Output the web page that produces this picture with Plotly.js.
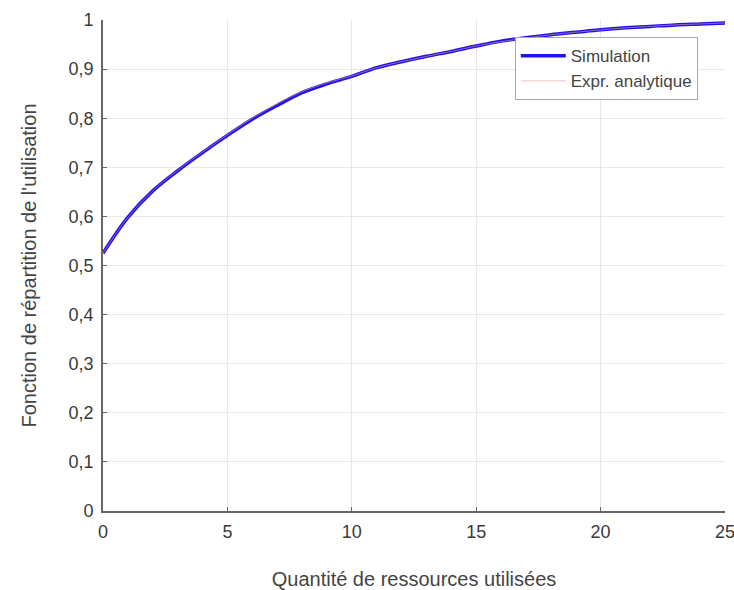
<!DOCTYPE html>
<html>
<head>
<meta charset="utf-8">
<script src="https://cdn.plot.ly/plotly-3.0.1.min.js"></script>
<style>html,body{margin:0;padding:0;background:#fff;}#chart{width:734px;height:590px;}</style>
</head>
<body>
<div id="chart"></div>
<script>
const xValues = [0,1,2,3,4,5,6,7,8,9,10,11,12,13,14,15,16,17,18,19,20,21,22,23,24,25];
const simulation = [0.525,0.598,0.652,0.693,0.730,0.765,0.798,0.826,0.852,0.870,0.885,0.903,0.915,0.926,0.936,0.947,0.957,0.964,0.970,0.975,0.980,0.984,0.987,0.990,0.992,0.994];
const analytique = [0.525,0.598,0.652,0.694,0.731,0.766,0.800,0.829,0.854,0.872,0.886,0.903,0.915,0.926,0.936,0.947,0.956,0.963,0.970,0.975,0.980,0.984,0.987,0.990,0.992,0.994];
const xTicks = [0,5,10,15,20,25];
const yTicks = [0,0.1,0.2,0.3,0.4,0.5,0.6,0.7,0.8,0.9,1];

const traces = [
  {x: xValues, y: analytique, mode: 'lines', name: 'Expr. analytique', showlegend: false, line: {color: 'rgb(240,150,150)', width: 1, shape: 'spline'}},
  {x: xValues, y: simulation, mode: 'lines', name: 'Simulation', line: {color: 'rgb(30,20,235)', width: 3.5, shape: 'spline'}},
  {x: xValues, y: analytique, mode: 'lines', name: 'Expr. analytique', line: {color: 'rgba(240,150,150,0.6)', width: 1, shape: 'spline'}}
];

const fontFam = 'Liberation Sans, Arial, sans-serif';
const axisCommon = {
  showline: true, linecolor: '#666', linewidth: 1.8,
  showgrid: true, gridcolor: '#e8e8e8', gridwidth: 1,
  zeroline: false, ticks: 'inside', ticklen: 4, tickcolor: '#666',
  tickfont: {family: fontFam, size: 18, color: '#3a3a3a'},
  ticklabeloverflow: 'allow', ticklabelstandoff: 4,
  mirror: false
};

const layout = {
  width: 734, height: 590,
  margin: {l: 103, r: 9, t: 20, b: 79},
  paper_bgcolor: '#fff', plot_bgcolor: '#fff',
  separators: ', ',
  showlegend: true,
  legend: {
    x: 0.662, y: 0.965, xanchor: 'left', yanchor: 'top',
    bgcolor: '#fff', bordercolor: '#aaa', borderwidth: 1,
    font: {family: fontFam, size: 17, color: '#444'},
    itemwidth: 45, tracegroupgap: 0
  },
  xaxis: Object.assign({}, axisCommon, {
    range: [0, 25], tickvals: xTicks, ticktext: xTicks.map(String),
    title: {text: 'Quantité de ressources utilisées', standoff: 30,
      font: {family: fontFam, size: 20, color: '#444'}}
  }),
  yaxis: Object.assign({}, axisCommon, {
    range: [0, 1], tickvals: yTicks, ticktext: yTicks.map(v => String(v).replace('.', ',')),
    title: {text: "Fonction de répartition de l'utilisation", standoff: 26,
      font: {family: fontFam, size: 20, color: '#444'}}
  })
};

Plotly.newPlot('chart', traces, layout, {displayModeBar: false, staticPlot: true});
</script>
</body>
</html>
